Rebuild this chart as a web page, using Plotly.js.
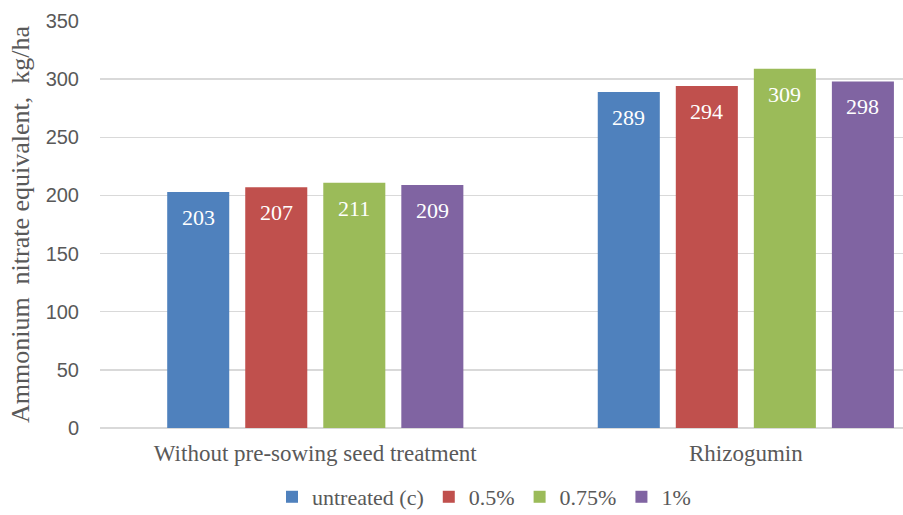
<!DOCTYPE html>
<html><head><meta charset="utf-8">
<script src="https://cdn.plot.ly/plotly-3.0.1.min.js"></script>
<style>html,body{margin:0;padding:0;overflow:hidden;background:#fff}</style>
</head><body>
<div id="chart" style="width:903px;height:515px"></div>
<script>
const categories = ["Without pre-sowing seed treatment", "Rhizogumin"];
const seriesNames = ["untreated (c)", "0.5%", "0.75%", "1%"];
const untreated = [203, 289];
const p05 = [207, 294];
const p075 = [211, 309];
const p1 = [209, 298];
const colors = ["#4F81BD", "#C0504D", "#9BBB59", "#8064A2"];
const yTicks = [0, 50, 100, 150, 200, 250, 300, 350];

const BARGAP = 0.275;
const allSeries = [untreated, p05, p075, p1];
const traces = allSeries.map((vals, i) => ({
  type: "bar",
  name: seriesNames[i],
  x: [0, 1],
  y: vals,
  marker: {color: colors[i]},
  hoverinfo: "none"
}));

// data labels positioned at each bar's centre, derived from the grouping layout
const slot = (1 - BARGAP) / allSeries.length;
const annotations = [];
allSeries.forEach((vals, i) => {
  vals.forEach((v, c) => {
    annotations.push({
      x: c + (i - (allSeries.length - 1) / 2) * slot,
      y: v, xref: "x", yref: "y",
      text: String(v), showarrow: false,
      yanchor: "top", yshift: -11,
      font: {family: "Liberation Serif", size: 22, color: "#ffffff"}
    });
  });
});

const layout = {
  width: 903, height: 515,
  margin: {l: 100, r: 0, t: 21, b: 87},
  paper_bgcolor: "#ffffff", plot_bgcolor: "#ffffff",
  barmode: "group",
  bargap: BARGAP,
  bargroupgap: 0.205,
  showlegend: true,
  annotations: annotations,
  legend: {
    orientation: "h", xref: "container", yref: "container",
    x: 0.536, xanchor: "center", y: 0.035, yanchor: "middle",
    font: {family: "Liberation Serif", size: 22, color: "#595959"},
    itemwidth: 30, traceorder: "normal"
  },
  xaxis: {
    range: [-0.5, 1.365],
    tickmode: "array", tickvals: [0, 1], ticktext: categories,
    showgrid: false, zeroline: false, showline: false, ticks: "",
    ticklabelstandoff: 9,
    tickfont: {family: "Liberation Serif", size: 23, color: "#595959"}
  },
  yaxis: {
    range: [0, 350],
    tickmode: "array", tickvals: yTicks, ticktext: yTicks.map(String),
    showgrid: true, gridcolor: "#D9D9D9", gridwidth: 1.3,
    zeroline: true, zerolinecolor: "#D9D9D9", zerolinewidth: 1.3,
    showline: false, ticks: "",
    ticklabelstandoff: 20,
    tickfont: {family: "Liberation Sans", size: 20, color: "#595959"},
    title: {text: "Ammonium\u00A0 nitrate equivalent,\u00A0 kg/ha", standoff: 8,
            font: {family: "Liberation Serif", size: 26, color: "#595959"}}
  }
};

Plotly.newPlot("chart", traces, layout, {displayModeBar: false, staticPlot: true});
</script>
</body></html>
